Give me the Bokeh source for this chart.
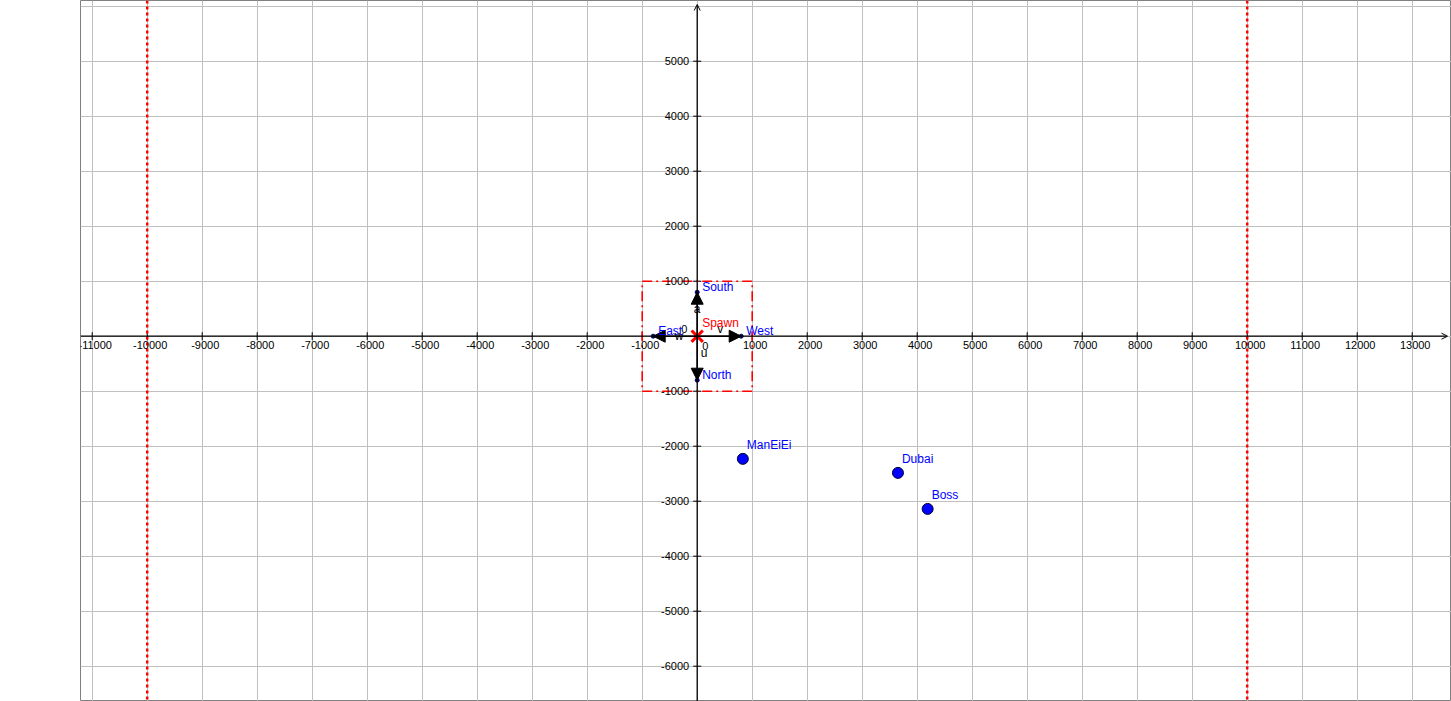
import numpy as np
from bokeh.plotting import figure
from bokeh.models import (ColumnDataSource, Span, Arrow, NormalHead, OpenHead,
                          LabelSet, SingleIntervalTicker)
from bokeh.core.properties import value
from bokeh.embed import file_html
from bokeh.resources import INLINE

# ---------------- data ----------------
x_ticks = [-11000, -10000, -9000, -8000, -7000, -6000, -5000, -4000, -3000, -2000, -1000,
           1000, 2000, 3000, 4000, 5000, 6000, 7000, 8000, 9000, 10000, 11000, 12000, 13000]
y_ticks = [-6000, -5000, -4000, -3000, -2000, -1000, 1000, 2000, 3000, 4000, 5000]
border_x = [-10000, 10000]
box_left, box_right, box_bottom, box_top = [-1000], [1000], [-1000], [1000]
spawn_x, spawn_y, spawn_name = [0], [0], ["Spawn"]
dir_names = ["South", "North", "East", "West"]
dir_x = [0, 0, -800, 800]
dir_y = [800, -800, 0, 0]
vec_names = ["a", "u", "w", "v"]
place_names = ["ManEiEi", "Dubai", "Boss"]
place_x = [830, 3650, 4190]
place_y = [-2230, -2485, -3140]

# ---------------- layout ----------------
SCALE = 0.055            # px per unit
LEFT_PANEL = 80
W, H = 1451, 701
ORIGIN_PX = (696.7, 335.7)
x0 = (LEFT_PANEL - ORIGIN_PX[0]) / SCALE
x1 = x0 + (W - LEFT_PANEL) / SCALE
y1 = ORIGIN_PX[1] / SCALE
y0 = y1 - H / SCALE

FONT = value("Liberation Sans")
BLUE = "#0000ff"
RED = "#ff0000"

p = figure(width=W, height=H, x_range=(x0, x1), y_range=(y0, y1),
           output_backend="svg", toolbar_location=None, title=None,
           min_border_left=LEFT_PANEL, min_border_right=0,
           min_border_top=0, min_border_bottom=0)
p.axis.visible = False
p.xgrid.ticker = SingleIntervalTicker(interval=1000)
p.ygrid.ticker = SingleIntervalTicker(interval=1000)
p.grid.grid_line_color = "#c0c0c0"
p.grid.grid_line_alpha = 1.0
p.grid.grid_line_width = 1
p.outline_line_color = "#808080"
p.outline_line_width = 1
p.background_fill_color = "white"
p.border_fill_color = "white"

# border lines (dotted red)
for bx in border_x:
    p.add_layout(Span(location=bx, dimension="height", line_color=RED,
                      line_width=2.5, line_dash="3 3"))

# axes with arrows
ax_pad = 4 / SCALE
p.add_layout(Arrow(end=OpenHead(size=6, line_width=1, line_color="black"),
                   x_start=x0, y_start=0, x_end=x1 - ax_pad, y_end=0,
                   line_color="black", line_width=1.3))
p.add_layout(Arrow(end=OpenHead(size=6, line_width=1, line_color="black"),
                   x_start=0, y_start=y0, x_end=0, y_end=y1 - ax_pad,
                   line_color="black", line_width=1.3))

# tick marks
p.scatter(x=x_ticks, y=[0] * len(x_ticks), marker="dash", size=8, angle=np.pi / 2,
          line_color="black", line_width=1)
p.scatter(x=[0] * len(y_ticks), y=y_ticks, marker="dash", size=8,
          line_color="black", line_width=1)

# tick labels
xs = ColumnDataSource(dict(x=x_ticks, y=[0] * len(x_ticks), t=[str(v) for v in x_ticks]))
p.add_layout(LabelSet(x="x", y="y", text="t", source=xs, x_offset=3, y_offset=-5,
                      text_align="center", text_baseline="top",
                      text_font=FONT, text_font_size=value("11px"), text_color="black"))
ys = ColumnDataSource(dict(x=[0] * len(y_ticks), y=y_ticks, t=[str(v) for v in y_ticks]))
p.add_layout(LabelSet(x="x", y="y", text="t", source=ys, x_offset=-8, y_offset=0,
                      text_align="right", text_baseline="middle",
                      text_font=FONT, text_font_size=value("11px"), text_color="black"))
origin = ColumnDataSource(dict(x=[0, dir_x[2]], y=[0, dir_y[2]], t=["0", "0"],
                               dx=[5, 28], dy=[-14, 3]))
p.add_layout(LabelSet(x="x", y="y", text="t", source=origin, x_offset="dx", y_offset="dy",
                      text_align="left", text_baseline="alphabetic",
                      text_font=FONT, text_font_size=value("11px"), text_color="black"))

# spawn box
p.quad(left=box_left, right=box_right, bottom=box_bottom, top=box_top,
       fill_alpha=0, line_color=RED, line_width=1.6, line_dash="10 4 2 4")

# direction vectors
vsrc = ColumnDataSource(dict(x0=[spawn_x[0]] * 4, y0=[spawn_y[0]] * 4, x1=dir_x, y1=dir_y))
p.add_layout(Arrow(end=NormalHead(size=12, fill_color="black", line_color="black", line_width=1),
                   x_start="x0", y_start="y0", x_end="x1", y_end="y1", source=vsrc,
                   line_color="black", line_width=1.5))
p.scatter(x=dir_x, y=dir_y, size=4, marker="circle", fill_color="#000066",
          line_color="#000066")
dsrc = ColumnDataSource(dict(x=dir_x, y=dir_y, t=dir_names))
p.add_layout(LabelSet(x="x", y="y", text="t", source=dsrc, x_offset=5, y_offset=1,
                      text_align="left", text_baseline="alphabetic",
                      text_font=FONT, text_font_size=value("12px"), text_color=BLUE))
# vector names at midpoints
vl = ColumnDataSource(dict(x=[v / 2 for v in dir_x], y=[v / 2 for v in dir_y], t=vec_names,
                           dx=[0, 7, 4, 1], dy=[1, 1, -4, 3]))
p.add_layout(LabelSet(x="x", y="y", text="t", source=vl, x_offset="dx", y_offset="dy",
                      text_align="center", text_baseline="alphabetic",
                      text_font=FONT, text_font_size=value("12px"), text_color="black"))

# spawn
p.scatter(x=spawn_x, y=spawn_y, marker="x", size=16, line_color=RED, line_width=3)
ssrc = ColumnDataSource(dict(x=spawn_x, y=spawn_y, t=spawn_name))
p.add_layout(LabelSet(x="x", y="y", text="t", source=ssrc, x_offset=5, y_offset=9,
                      text_align="left", text_baseline="alphabetic",
                      text_font=FONT, text_font_size=value("12px"), text_color=RED))

# places
p.scatter(x=place_x, y=place_y, marker="circle", size=11, fill_color=BLUE,
          line_color="#000033", line_width=1)
psrc = ColumnDataSource(dict(x=place_x, y=place_y, t=place_names))
p.add_layout(LabelSet(x="x", y="y", text="t", source=psrc, x_offset=4, y_offset=9.5,
                      text_align="left", text_baseline="alphabetic",
                      text_font=FONT, text_font_size=value("12px"), text_color=BLUE))

open("out.html", "w").write(file_html(p, INLINE))
